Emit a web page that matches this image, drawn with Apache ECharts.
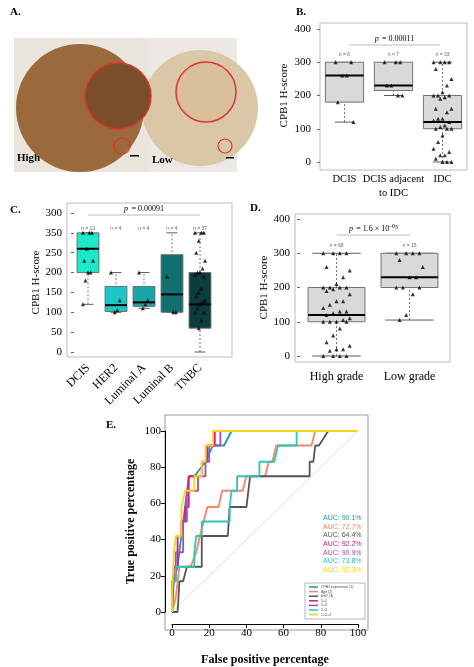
<!DOCTYPE html>
<html><head><meta charset="utf-8">
<script src="https://cdn.jsdelivr.net/npm/echarts@6/dist/echarts.min.js"></script>
<style>html,body{margin:0;padding:0;background:#fff}#c{width:474px;height:667px}</style>
</head><body><div id="c"></div>
<script>
// ---------- DATA ----------
const bCats = ['DCIS', 'DCIS adjacent\nto IDC', 'IDC'];
const bBoxes = [[120,180,260,300,300],[200,215,230,300,300],[0,100,120,200,300]];
const bN = ['n = 6','n = 7','n = 33'];
const bPoints = [
  [300,300,260,260,180,120],
  [300,300,300,230,230,200,200],
  [300,300,300,300,280,250,230,210,200,200,200,195,190,160,160,150,130,130,125,120,110,105,100,100,100,80,60,40,30,20,20,10,0,0,0]
];
const cCats = ['DCIS','HER2','Luminal A','Luminal B','TNBC'];
const cBoxes = [[120,200,260,300,300],[100,102,118,165,200],[110,115,125,165,200],[100,100,145,245,300],[0,60,120,200,300]];
const cN = ['n = 13','n = 4','n = 4','n = 4','n = 37'];
const cTickLabels = ['0','50','100','150','200','250','350','300'];
const cPoints = [
  [300,300,300,260,230,230,200,200,180,120],
  [200,130,105,100],
  [200,130,120,110],
  [190,100,100],
  [300,300,300,280,250,230,210,200,200,195,190,160,150,140,130,125,120,110,100,100,80,60]
];
const dCats = ['High grade','Low grade'];
const dBoxes = [[0,100,120,200,300],[105,200,230,300,300]];
const dN = ['n = 68','n = 15'];
const dPoints = [
  [300,300,300,300,260,250,230,210,200,200,200,200,195,190,180,160,160,150,140,130,130,125,120,110,105,100,100,100,100,80,60,40,30,20,20,15,0,0,0,0],
  [300,300,300,300,280,260,230,230,200,200,200,180,120,105]
];
const rocNames = ['CPB1 expression (1)','Age (2)','Ki67 (3)','1+2','1+3','2+3','1+2+3'];
const rocAUC = ['AUC: 90.1%','AUC: 72.7%','AUC: 64.4%','AUC: 92.2%','AUC: 90.9%','AUC: 73.8%','AUC: 92.3%'];
const rocCPB1 = [[0,0],[1,17],[3,25],[5,42],[7,58],[9,75],[12,75],[18,83],[22,92],[28,92],[32,100],[100,100]];
const rocAge = [[0,0],[2,8],[4,25],[10,25],[13,33],[15,42],[17,50],[19,58],[25,58],[27,67],[38,67],[40,75],[50,75],[52,83],[54,83],[56,92],[75,92],[77,100],[100,100]];
const rocKi67 = [[0,0],[3,0],[4,17],[6,17],[8,25],[16,25],[16,42],[30,42],[31,58],[40,58],[42,75],[74,75],[74,83],[76,83],[77,92],[79,92],[84,100],[100,100]];
const roc12 = [[0,0],[1,25],[3,25],[3,42],[5,42],[5,50],[7,50],[7,58],[9,58],[9,75],[16,75],[16,83],[19,83],[19,92],[23,92],[23,100],[100,100]];
const roc13 = [[0,0],[0,17],[2,17],[2,33],[6,33],[6,50],[8,50],[8,67],[14,67],[14,75],[18,75],[18,83],[20,83],[20,92],[26,92],[26,100],[100,100]];
const roc23 = [[0,0],[0,17],[2,17],[2,25],[12,25],[12,33],[13,42],[16,42],[16,50],[31,50],[31,58],[32,67],[35,67],[35,75],[47,75],[47,83],[55,83],[57,92],[67,92],[67,100],[100,100]];
const roc123 = [[0,0],[0,8],[1,8],[1,33],[2,42],[5,42],[5,58],[7,67],[12,67],[12,75],[16,75],[16,83],[18,83],[18,92],[22,92],[22,100],[100,100]];
const rocColors = ['#1a9e8f','#f4866a','#555555','#d6187f','#9b4fc4','#2ec4b6','#ffd21a'];

// ---------- BUILD ----------
const serif = 'Liberation Serif';
const grids = [], xAxes = [], yAxes = [], series = [], graphic = [];

function boxSeries(xi, yi, boxes, fills, capRatio){
  return {type:'custom', xAxisIndex:xi, yAxisIndex:yi, z:2,
    data: boxes.map((b,i)=>[i].concat(b)),
    renderItem:(params, api)=>{
      const i=api.value(0);
      const bw=api.size([1,0])[0]*0.78;
      const c=api.coord([i,api.value(3)]);
      const x=c[0];
      const pMin=api.coord([i,api.value(1)])[1], pQ1=api.coord([i,api.value(2)])[1],
            pMed=c[1], pQ3=api.coord([i,api.value(4)])[1], pMax=api.coord([i,api.value(5)])[1];
      const cw=bw*capRatio;
      return {type:'group', children:[
        {type:'line', shape:{x1:x,y1:pMin,x2:x,y2:pMax}, style:{stroke:'#555',lineWidth:0.8,lineDash:[2,2]}},
        {type:'line', shape:{x1:x-cw/2,y1:pMin,x2:x+cw/2,y2:pMin}, style:{stroke:'#333',lineWidth:0.8}},
        {type:'line', shape:{x1:x-cw/2,y1:pMax,x2:x+cw/2,y2:pMax}, style:{stroke:'#333',lineWidth:0.8}},
        {type:'rect', shape:{x:x-bw/2,y:pQ3,width:bw,height:pQ1-pQ3}, style:{fill:fills[i%fills.length],stroke:'#666',lineWidth:0.9}},
        {type:'line', shape:{x1:x-bw/2,y1:pMed,x2:x+bw/2,y2:pMed}, style:{stroke:'#000',lineWidth:2}}
      ]};
    }};
}
function pointSeries(xi, yi, pts){
  const data=[];
  pts.forEach((arr,g)=>arr.forEach((v,k)=>{
    const j=(((k*7)%9)-4)/22;
    data.push([g+j, v]);
  }));
  return {type:'scatter', xAxisIndex:xi, yAxisIndex:yi, z:3, symbol:'triangle', symbolSize:4,
    itemStyle:{color:'#000'}, data};
}
function boxPanel(o){
  const gi=grids.length;
  grids.push({left:o.left, width:o.width, top:o.top, height:o.height});
  const xi=xAxes.length, yi=yAxes.length;
  xAxes.push({type:'category', gridIndex:gi, data:o.cats, axisLine:{show:false,onZero:false}, axisTick:{show:false},
    axisLabel:Object.assign({fontFamily:serif, fontSize:o.catSize||12, color:'#000', margin:o.catMargin||12, interval:0, lineHeight:14}, o.catLabel||{})});
  xAxes.push({type:'value', gridIndex:gi, min:-0.5, max:o.cats.length-0.5, show:false, axisLine:{onZero:false}});
  yAxes.push({type:'value', gridIndex:gi, min:0, max:o.max, interval:o.interval, splitLine:{show:false},
    axisLine:{show:false,onZero:false}, axisTick:{show:true, length:3, lineStyle:{color:'#666'}},
    axisLabel:{fontFamily:serif, fontSize:11, color:'#000', margin:o.labMargin||6, formatter:o.fmt||'{value}'},
    name:'CPB1 H-score', nameLocation:'middle', nameGap:o.nameGap, nameTextStyle:{fontFamily:serif,fontSize:11,color:'#000'}});
  series.push(boxSeries(xi, yi, o.boxes, o.fills, o.cap));
  series.push(pointSeries(xi+1, yi, o.points));
  graphic.push({type:'rect', shape:{x:o.border[0],y:o.border[1],width:o.border[2]-o.border[0],height:o.border[3]-o.border[1]},
    style:{fill:'none',stroke:'#bbb',lineWidth:1}, z:0});
  const bw=o.width/o.cats.length;
  o.n.forEach((t,i)=>graphic.push({type:'text', x:o.left+bw*(i+0.5), y:o.nY, style:{text:t, fill:'#666', align:'center', verticalAlign:'middle', font:'5px sans-serif'}}));
  graphic.push({type:'line', shape:{x1:o.pLine[0],y1:o.pLine[2],x2:o.pLine[1],y2:o.pLine[2]}, style:{stroke:'#bbb',lineWidth:1}});
  graphic.push({type:'text', x:(o.pLine[0]+o.pLine[1])/2, y:o.pLine[2]-6, style:{rich:{i:{fontStyle:'italic',fontFamily:serif,fontSize:8},n:{fontFamily:serif,fontSize:8}}, text:o.pText, align:'center', verticalAlign:'middle'}});
}

// Panel B
boxPanel({left:320, width:147, top:29, height:133, cats:bCats, max:400, interval:100, boxes:bBoxes,
  fills:['#d9d9d9'], cap:0.5, points:bPoints, nameGap:30, border:[320,23,467,170], n:bN, nY:55,
  pLine:[349,440,45], pText:'{i|p} {n|= 0.00011}', catMargin:10, catSize:10.5, labMargin:9});
// Panel C
boxPanel({left:74, width:140, top:213, height:139, cats:cCats, max:350, interval:50, boxes:cBoxes,
  fills:['#1de9c9','#1cc7c7','#1aa6a6','#11706e','#0b3d3d'], cap:0.5, points:cPoints, nameGap:32,
  border:[67,203,232,357], n:cN, nY:229, pLine:[88,200,215], pText:'{i|p} {n|= 0.00091}',
  fmt:(v)=>cTickLabels[v/50], catLabel:{rotate:45, margin:14}, labMargin:12});
// Panel D
boxPanel({left:300, width:146, top:219, height:137, cats:dCats, max:400, interval:100, boxes:dBoxes,
  fills:['#d9d9d9'], cap:0.85, points:dPoints, nameGap:30, border:[295,214,450,362], n:dN, nY:246,
  pLine:[337,410,235], pText:'{i|p} {n|= 1.6 × 10⁻⁰⁵}', catMargin:14, labMargin:10});

// Panel E
const gE=grids.length;
grids.push({left:172, width:186, top:431, height:189});
const xE=xAxes.length, yE=yAxes.length;
xAxes.push({type:'value', gridIndex:gE, min:0, max:100, interval:20, offset:12, splitLine:{show:false},
  axisLine:{show:true,onZero:false,lineStyle:{color:'#000'}}, axisTick:{length:4,lineStyle:{color:'#000'}},
  axisLabel:{fontFamily:serif,fontSize:11,color:'#000',margin:4},
  name:'False positive percentage', nameLocation:'middle', nameGap:30, nameTextStyle:{fontFamily:serif,fontSize:12,fontWeight:'bold',color:'#000'}});
yAxes.push({type:'value', gridIndex:gE, min:0, max:100, interval:20, offset:7, splitLine:{show:false},
  axisLine:{show:true,onZero:false,lineStyle:{color:'#000'}}, axisTick:{length:4,lineStyle:{color:'#000'}},
  axisLabel:{fontFamily:serif,fontSize:11,color:'#000',margin:4},
  name:'True positive percentage', nameLocation:'middle', nameGap:28, nameTextStyle:{fontFamily:serif,fontSize:12,fontWeight:'bold',color:'#000'}});
series.push({type:'line', xAxisIndex:xE, yAxisIndex:yE, data:[[0,0],[100,100]], symbol:'none', lineStyle:{color:'#ddd',width:1}, silent:true});
const rocs=[rocCPB1,rocAge,rocKi67,roc12,roc13,roc23,roc123];
rocs.forEach((d,i)=>series.push({type:'line', name:rocNames[i], xAxisIndex:xE, yAxisIndex:yE, data:d, symbol:'none',
  lineStyle:{color:rocColors[i], width:1.8}, z:3+i}));
graphic.push({type:'rect', shape:{x:165,y:415,width:203,height:215}, style:{fill:'none',stroke:'#999',lineWidth:1}, z:0});
rocAUC.forEach((t,i)=>graphic.push({type:'text', x:323, y:518+i*8.7, style:{text:t, fill:rocColors[i], font:'7px "Liberation Sans"', verticalAlign:'middle'}}));
graphic.push({type:'rect', shape:{x:305,y:583,width:60,height:36}, style:{fill:'#fff',stroke:'#888',lineWidth:0.6}, z:10});
rocNames.forEach((t,i)=>{
  graphic.push({type:'line', shape:{x1:309,y1:587+i*4.6,x2:318,y2:587+i*4.6}, style:{stroke:rocColors[i],lineWidth:1.5}, z:11});
  graphic.push({type:'text', x:321, y:587+i*4.6, style:{text:t, fill:'#444', font:'3.5px "Liberation Sans"', verticalAlign:'middle'}, z:11});
});

// Panel labels
[['A.',10,12],['B.',296,12],['C.',10,210],['D.',250,208],['E.',106,425]].forEach(l=>graphic.push({type:'text', x:l[1], y:l[2], style:{text:l[0], font:'bold 11px "Liberation Serif"', fill:'#000', verticalAlign:'middle'}}));

// Panel A illustrative tissue images
graphic.push({type:'rect', shape:{x:14,y:38,width:136,height:134}, style:{fill:'#e9e4dc'}, z:0});
graphic.push({type:'circle', shape:{cx:80,cy:108,r:64}, style:{fill:'#9a6a3c'}, z:1});
graphic.push({type:'circle', shape:{cx:118,cy:96,r:33}, style:{fill:'#7a4e2a',stroke:'#d33',lineWidth:1.5}, z:2});
graphic.push({type:'circle', shape:{cx:122,cy:146,r:8}, style:{fill:'none',stroke:'#d33',lineWidth:1.2}, z:2});
graphic.push({type:'text', x:17, y:158, style:{text:'High', font:'bold 11px "Liberation Serif"', fill:'#000', verticalAlign:'middle'}, z:3});
graphic.push({type:'rect', shape:{x:130,y:155,width:9,height:1.5}, style:{fill:'#000'}, z:3});
graphic.push({type:'rect', shape:{x:150,y:38,width:87,height:134}, style:{fill:'#ece9e4'}, z:0});
graphic.push({type:'circle', shape:{cx:200,cy:108,r:58}, style:{fill:'#d9c7a8'}, z:1});
graphic.push({type:'circle', shape:{cx:206,cy:92,r:30}, style:{fill:'#d8bf9a',stroke:'#d33',lineWidth:1.5}, z:2});
graphic.push({type:'circle', shape:{cx:225,cy:146,r:7}, style:{fill:'none',stroke:'#d33',lineWidth:1.2}, z:2});
graphic.push({type:'text', x:152, y:160, style:{text:'Low', font:'bold 11px "Liberation Serif"', fill:'#000', verticalAlign:'middle'}, z:3});
graphic.push({type:'rect', shape:{x:226,y:157,width:8,height:1.5}, style:{fill:'#000'}, z:3});

const chart = echarts.init(document.getElementById('c'), null, {renderer:'canvas'});
chart.setOption({animation:false, backgroundColor:'#fff', grid:grids, xAxis:xAxes, yAxis:yAxes, series, graphic});
</script></body></html>
